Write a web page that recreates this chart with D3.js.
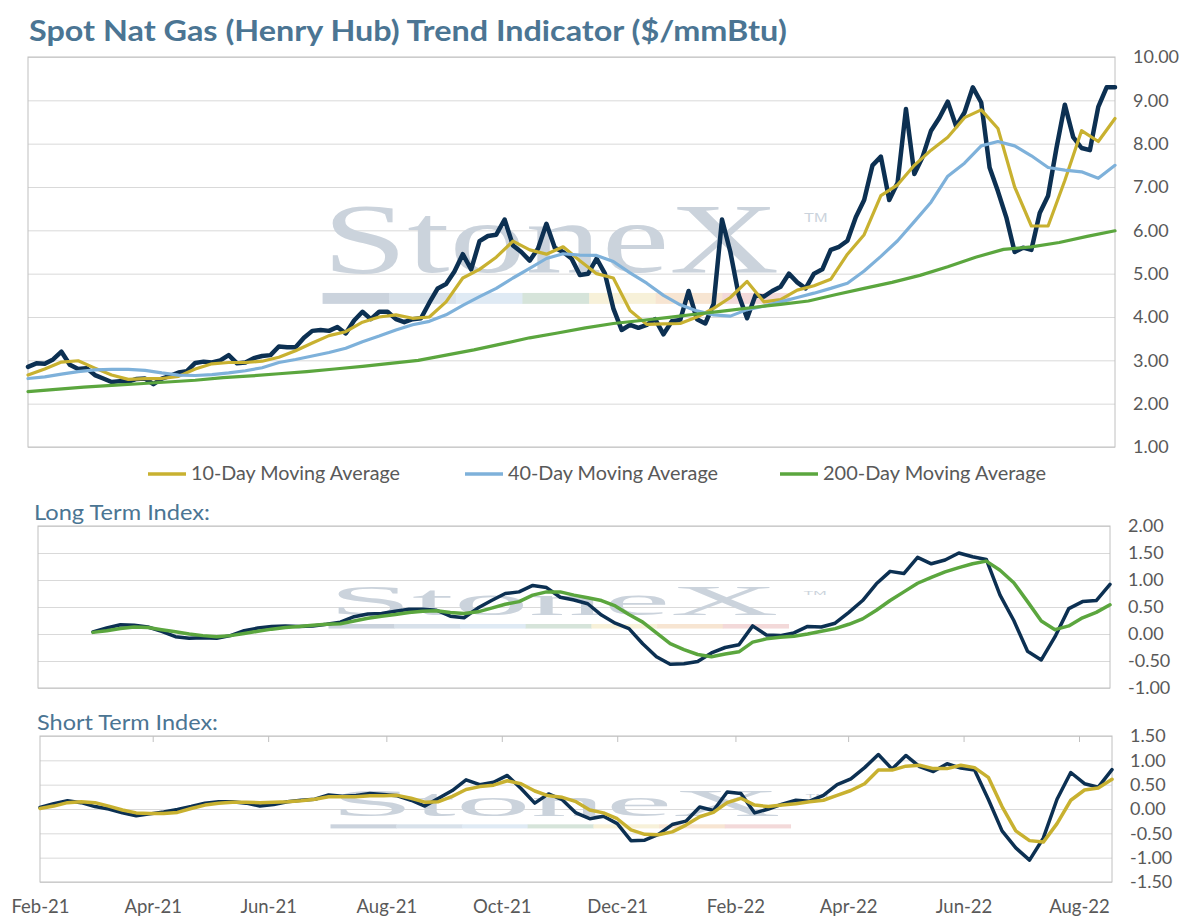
<!DOCTYPE html>
<html>
<head>
<meta charset="utf-8">
<script src="https://cdn.jsdelivr.net/npm/d3@7"></script>
<style>
  body { margin: 0; background: #fff; }
  svg { display: block; font-family: Lato, "Open Sans", sans-serif; }
</style>
</head>
<body>
<svg width="1187" height="924"></svg>
<script>
const width = 1187, height = 924;
const svg = d3.select("svg");

// x axis: trading-day index of the first day of each labelled month
const monthLabels = ["Feb-21", "Apr-21", "Jun-21", "Aug-21", "Oct-21", "Dec-21", "Feb-22", "Apr-22", "Jun-22", "Aug-22"];
const monthDay = [0, 41, 83, 126, 168, 210, 253, 294, 336, 378];
const lastDay = 390;

// sampling interval (trading days) of each series
const spotStep = 3, avgStep = 6, longAvgStep = 10, indexStep = 5;

// Henry Hub spot, $/mmBtu
const spotPrice = [
  2.85, 2.93, 2.92, 3.02, 3.2, 2.9, 2.8, 2.82, 2.66, 2.58,
  2.50, 2.52, 2.51, 2.57, 2.58, 2.45, 2.58, 2.64, 2.72, 2.75,
  2.94, 2.97, 2.95, 3.0, 3.12, 2.93, 2.95, 3.05, 3.1, 3.12,
  3.32, 3.3, 3.3, 3.52, 3.68, 3.7, 3.68, 3.77, 3.62, 3.92,
  4.12, 3.95, 4.12, 4.12, 3.95, 3.88, 3.95,
  3.97, 4.33, 4.66, 4.76, 5.05, 5.45, 5.1, 5.75, 5.87, 5.9,
  6.25, 5.65, 5.5, 5.3, 5.58, 6.15, 5.6, 5.5, 5.35, 4.97,
  5.0, 5.35, 5.0, 4.2, 3.7, 3.82, 3.75, 3.82, 3.95, 3.6,
  3.9, 3.93, 4.6, 3.95, 3.85, 4.3, 6.25, 5.5, 4.5, 3.97,
  4.5, 4.47, 4.6, 4.7, 5.0, 4.8,
  4.66, 5.0, 5.1, 5.55, 5.62, 5.76, 6.3, 6.7, 7.5, 7.7,
  6.7, 7.1, 8.8, 7.3, 7.7, 8.3, 8.6, 8.97, 8.4, 8.72,
  9.3, 8.95, 7.45, 6.9, 6.3, 5.5, 5.6, 5.55, 6.4, 6.8,
  7.9, 8.9, 8.15, 7.9, 7.85, 8.85, 9.3, 9.3
];

const avg10 = [
  2.66, 2.8, 2.96, 2.99, 2.82, 2.66, 2.56, 2.58, 2.58, 2.63,
  2.8, 2.92, 2.95, 2.95, 2.98, 3.07, 3.22, 3.4, 3.57, 3.66,
  3.88, 4.0, 4.05, 3.97,
  4.0, 4.35, 4.9, 5.1, 5.38, 5.75, 5.55, 5.45, 5.62, 5.3,
  5.0, 4.9, 4.15, 3.83, 3.84, 3.85, 4.0, 4.2, 4.45, 4.82,
  4.35, 4.4, 4.62,
  4.72, 4.87, 5.45, 5.9, 6.8, 7.05, 7.5, 7.85, 8.15, 8.6,
  8.78, 8.35, 7.0, 6.1, 6.1, 7.15, 8.3, 8.05, 8.58
];

const avg40 = [
  2.58, 2.62, 2.68, 2.74, 2.78, 2.79, 2.79, 2.77, 2.71, 2.66,
  2.65, 2.67, 2.71, 2.76, 2.83, 2.95, 3.02, 3.1, 3.18, 3.28,
  3.43, 3.56, 3.7, 3.82,
  3.9, 4.05, 4.27, 4.47, 4.66, 4.9, 5.12, 5.35, 5.46, 5.43,
  5.42, 5.28, 5.02, 4.78, 4.5, 4.28, 4.14, 4.05, 4.02, 4.17,
  4.25, 4.35, 4.45,
  4.55, 4.66, 4.78, 5.06, 5.4, 5.76, 6.2, 6.65, 7.25, 7.55,
  7.95, 8.05, 7.95, 7.72, 7.45, 7.39, 7.35, 7.2, 7.5
];

const avg200 = [
  2.28, 2.33, 2.38, 2.42, 2.46, 2.5, 2.54, 2.6, 2.64, 2.69,
  2.74, 2.8, 2.86, 2.93, 3.0, 3.12, 3.24, 3.38, 3.52, 3.63,
  3.75, 3.85, 3.92, 3.99, 4.07, 4.14, 4.22, 4.29, 4.37, 4.52,
  4.66, 4.8, 4.96, 5.16, 5.38, 5.56, 5.62, 5.72, 5.86, 5.99
];

// Long term index starts 20 trading days in
const longStart = 20;
const longIndex = [
  0.04, 0.11, 0.17, 0.16, 0.13, 0.05, -0.05, -0.08, -0.07, -0.08,
  -0.03, 0.06, 0.11, 0.14, 0.15, 0.14, 0.15, 0.18, 0.22, 0.32,
  0.37, 0.38, 0.42, 0.46, 0.46, 0.44, 0.33, 0.30, 0.48, 0.62,
  0.75, 0.78, 0.9, 0.86, 0.68, 0.63, 0.56, 0.35, 0.2, 0.1,
  -0.18, -0.42, -0.56, -0.55, -0.51, -0.35, -0.25, -0.2, 0.15, -0.02,
  -0.03, 0.02, 0.14, 0.13, 0.2, 0.4, 0.62, 0.93, 1.16, 1.12,
  1.42, 1.3, 1.37, 1.5, 1.43, 1.38, 0.72, 0.25, -0.32, -0.48,
  -0.05, 0.47, 0.6, 0.62, 0.92
];
const longSignal = [
  0.03, 0.06, 0.1, 0.13, 0.12, 0.08, 0.04, 0.0, -0.03, -0.05,
  -0.03, 0.01, 0.05, 0.09, 0.12, 0.14, 0.16, 0.18, 0.19, 0.24,
  0.29, 0.33, 0.36, 0.4, 0.42, 0.43, 0.4, 0.38, 0.41, 0.48,
  0.55, 0.6, 0.72, 0.78, 0.78, 0.72, 0.67, 0.62, 0.52, 0.36,
  0.22, 0.02, -0.18, -0.29, -0.38, -0.42, -0.37, -0.33, -0.15, -0.09,
  -0.06, -0.04, 0.0, 0.05, 0.1, 0.18, 0.28, 0.44, 0.62, 0.78,
  0.94, 1.05, 1.15, 1.23, 1.3, 1.35, 1.18, 0.95, 0.6, 0.24,
  0.08, 0.15, 0.3, 0.4, 0.54
];

const shortIndex = [
  0.03, 0.11, 0.17, 0.13, 0.05, 0.0, -0.08, -0.14, -0.1, -0.06,
  -0.01, 0.05, 0.12, 0.15, 0.15, 0.12, 0.06, 0.09, 0.15, 0.18,
  0.2, 0.29, 0.26, 0.28, 0.32, 0.3, 0.27, 0.18, 0.06, 0.22,
  0.38, 0.6, 0.5, 0.55, 0.69, 0.42, 0.12, 0.31, 0.19, -0.08,
  -0.2, -0.15, -0.3, -0.65, -0.64, -0.52, -0.32, -0.25, 0.04, -0.03,
  0.35, 0.32, -0.08, 0.0, 0.1, 0.18, 0.16, 0.28, 0.5, 0.62,
  0.85, 1.12, 0.82, 1.1, 0.87, 0.77, 0.93, 0.84, 0.8, 0.2,
  -0.45, -0.8, -1.05, -0.6, 0.2, 0.75, 0.52, 0.45, 0.81
];
const shortSignal = [
  0.01, 0.06, 0.13, 0.15, 0.13, 0.06, -0.02, -0.08, -0.09, -0.09,
  -0.07, 0.01, 0.08, 0.12, 0.14, 0.14, 0.13, 0.14, 0.15, 0.17,
  0.2, 0.25, 0.25, 0.25, 0.27, 0.27, 0.28, 0.22, 0.14, 0.15,
  0.26, 0.4, 0.46, 0.49, 0.58, 0.52, 0.37, 0.27, 0.24, 0.15,
  -0.02, -0.08, -0.2, -0.43, -0.52, -0.53, -0.47, -0.33, -0.16, -0.07,
  0.13, 0.22, 0.08, 0.05, 0.08, 0.11, 0.15, 0.18, 0.28, 0.38,
  0.52, 0.8, 0.8, 0.88, 0.9, 0.83, 0.83, 0.9, 0.85, 0.65,
  0.05, -0.45, -0.65, -0.68, -0.3, 0.18, 0.39, 0.43, 0.61
];

// axis ticks
const priceTicks = [1, 2, 3, 4, 5, 6, 7, 8, 9, 10];
const longTicks = [-1, -0.5, 0, 0.5, 1, 1.5, 2];
const shortTicks = [-1.5, -1, -0.5, 0, 0.5, 1, 1.5];

const colors = { spot: "#0c3052", avg10: "#c8b130", avg40: "#7eb1da", avg200: "#5ba63e" };
const titleColor = "#4b7593";
const labelColor = "#595959";

// turn a value list into {day, value} points
function toPoints(values, step, start = 0) {
  return values.map((v, k) => ({ day: start + k * step, value: v }));
}

// Function to draw the StoneX watermark, stretched over a plot area
function drawWatermark(left, top, w, h) {
  const g = svg.append("g")
    .attr("transform", `translate(${left},${top}) scale(${w / 1000},${h / 1000})`);

  const bands = ["#cbd3dd", "#d8e1ea", "#dfeaf4", "#d6e4da", "#f7f1d9", "#f7e5d2", "#f3d9d9"];
  g.selectAll("rect")
    .data(bands)
    .enter().append("rect")
    .attr("x", (d, i) => 271 + i * 61.3)
    .attr("y", 605)
    .attr("width", 61.8)
    .attr("height", 28)
    .attr("fill", d => d);

  // serif letters, stretched tall
  g.append("text")
    .attr("transform", "translate(271,551) scale(1,1.84)")
    .attr("font-family", "'Liberation Serif', 'DejaVu Serif', serif")
    .attr("font-size", 140)
    .attr("fill", "#cbd3dc")
    .text("StoneX");

  g.append("text")
    .attr("transform", "translate(714,423) scale(1,2.2)")
    .attr("font-family", "'Liberation Sans', sans-serif")
    .attr("font-size", 15)
    .attr("fill", "#cbd3dc")
    .text("TM");
}

// Function to draw frame, gridlines, watermark and value labels of a panel
function drawPanel(p) {
  const x = d3.scaleLinear().domain([0, lastDay]).range([p.left, p.right]);
  const y = d3.scaleLinear().domain(d3.extent(p.ticks)).range([p.bottom, p.top]);

  // gridlines
  svg.append("g")
    .attr("transform", `translate(${p.left},0)`)
    .call(d3.axisLeft(y).tickValues(p.ticks).tickSize(-(p.right - p.left)).tickFormat(""))
    .call(g => g.select(".domain").remove())
    .selectAll("line").attr("stroke", "#d9d9d9").attr("stroke-width", 1);

  drawWatermark(p.left, p.top, p.right - p.left, p.bottom - p.top);

  // frame
  svg.append("rect")
    .attr("x", p.left).attr("y", p.top)
    .attr("width", p.right - p.left).attr("height", p.bottom - p.top)
    .attr("fill", "none").attr("stroke", "#c0c0c0").attr("stroke-width", 1);

  // value labels on the right
  svg.append("g")
    .attr("transform", `translate(${p.right},0)`)
    .call(d3.axisRight(y).tickValues(p.ticks).tickSize(0).tickPadding(18).tickFormat(d => d.toFixed(2)))
    .call(g => g.select(".domain").remove())
    .selectAll("text")
    .style("font-family", "Lato, sans-serif").style("font-size", "18px").attr("fill", labelColor);

  return { x, y };
}

// Function to draw one series as a line
function drawLine(scales, points, color, strokeWidth) {
  const line = d3.line()
    .x(d => scales.x(d.day))
    .y(d => scales.y(d.value));

  svg.append("path")
    .datum(points)
    .attr("d", line)
    .attr("fill", "none")
    .attr("stroke", color)
    .attr("stroke-width", strokeWidth)
    .attr("stroke-linejoin", "round")
    .attr("stroke-linecap", "round");
}

// Function to add titles and panel captions
function addTitles() {
  svg.append("text")
    .attr("x", 29).attr("y", 41)
    .attr("textLength", 758).attr("lengthAdjust", "spacingAndGlyphs")
    .style("font-size", "28px").style("font-weight", "bold")
    .attr("fill", titleColor)
    .text("Spot Nat Gas (Henry Hub) Trend Indicator ($/mmBtu)");

  svg.append("text")
    .attr("x", 34).attr("y", 520)
    .attr("textLength", 176).attr("lengthAdjust", "spacingAndGlyphs")
    .style("font-size", "21px")
    .attr("fill", titleColor)
    .text("Long Term Index:");

  svg.append("text")
    .attr("x", 37).attr("y", 730)
    .attr("textLength", 181).attr("lengthAdjust", "spacingAndGlyphs")
    .style("font-size", "21px")
    .attr("fill", titleColor)
    .text("Short Term Index:");
}

// Function to draw the legend under the price panel
function addLegend() {
  const items = [
    { label: "10-Day Moving Average", color: colors.avg10, x: 148, len: 209 },
    { label: "40-Day Moving Average", color: colors.avg40, x: 465, len: 210 },
    { label: "200-Day Moving Average", color: colors.avg200, x: 780, len: 223 }
  ];
  const g = svg.append("g");
  items.forEach(d => {
    g.append("line")
      .attr("x1", d.x).attr("x2", d.x + 38)
      .attr("y1", 474).attr("y2", 474)
      .attr("stroke", d.color).attr("stroke-width", 3.5);
    g.append("text")
      .attr("x", d.x + 43).attr("y", 480)
      .attr("textLength", d.len).attr("lengthAdjust", "spacingAndGlyphs")
      .style("font-size", "18.5px")
      .attr("fill", labelColor)
      .text(d.label);
  });
}

// Function to draw the month axis of the bottom panel
function addMonthAxis(scales, top, bottom) {
  svg.append("g")
    .attr("transform", `translate(0,${bottom})`)
    .call(d3.axisBottom(scales.x).tickValues(monthDay).tickSize(0).tickPadding(18)
      .tickFormat((d, i) => monthLabels[i]))
    .call(g => g.select(".domain").remove())
    .selectAll("text")
    .style("font-family", "Lato, sans-serif").style("font-size", "18.5px").attr("fill", labelColor);

  // small marks hanging from the top border
  svg.append("g")
    .attr("transform", `translate(0,${top})`)
    .call(d3.axisBottom(scales.x).tickValues(monthDay.slice(1)).tickSize(6).tickFormat(""))
    .call(g => g.select(".domain").remove())
    .selectAll("line").attr("stroke", "#c0c0c0");
}

function drawChart() {
  addTitles();

  // price panel
  const price = drawPanel({ left: 28, right: 1115, top: 57, bottom: 447, ticks: priceTicks });
  drawLine(price, toPoints(spotPrice, spotStep), colors.spot, 4.5);
  drawLine(price, toPoints(avg10, avgStep), colors.avg10, 3.2);
  drawLine(price, toPoints(avg40, avgStep), colors.avg40, 3.2);
  drawLine(price, toPoints(avg200, longAvgStep), colors.avg200, 3.2);
  addLegend();

  // long term index panel
  const long = drawPanel({ left: 38, right: 1110, top: 526, bottom: 688, ticks: longTicks });
  drawLine(long, toPoints(longIndex, indexStep, longStart), colors.spot, 3.5);
  drawLine(long, toPoints(longSignal, indexStep, longStart), colors.avg200, 3.5);

  // short term index panel
  const short = drawPanel({ left: 40, right: 1112, top: 736, bottom: 882, ticks: shortTicks });
  drawLine(short, toPoints(shortIndex, indexStep), colors.spot, 3.5);
  drawLine(short, toPoints(shortSignal, indexStep), colors.avg10, 3.5);
  addMonthAxis(short, 736, 882);
}

drawChart();
</script>
</body>
</html>
